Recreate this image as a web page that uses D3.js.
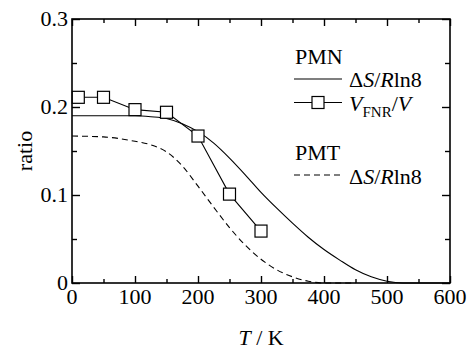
<!DOCTYPE html>
<html>
<head>
<meta charset="utf-8">
<script src="https://cdn.jsdelivr.net/npm/d3@7"></script>
<style>
  body { margin: 0; background: #fff; }
  svg { display: block; }
  svg text { font-family: "Liberation Serif", Tinos, "Times New Roman", Times, "DejaVu Serif", serif; }
</style>
</head>
<body>
<svg></svg>
<script>
// squares: V_FNR / V for PMN
let fnrT = [10, 50, 100, 150, 200, 250, 300];
let fnrRatio = [0.211, 0.211, 0.197, 0.194, 0.167, 0.101, 0.059];

// solid curve: PMN entropy ratio
let pmnT = [0, 50, 100, 125, 150, 175, 200, 225, 250, 275, 300, 325, 350, 375, 400, 425, 450, 475, 500, 525, 600];
let pmnRatio = [0.19, 0.19, 0.19, 0.189, 0.187, 0.181, 0.172, 0.159, 0.142, 0.123, 0.103, 0.085, 0.068, 0.052, 0.038, 0.026, 0.015, 0.007, 0.002, 0, 0];

// dashed curve: PMT entropy ratio
let pmtT = [0, 50, 100, 125, 150, 175, 200, 225, 250, 275, 300, 325, 350, 375, 400, 450];
let pmtRatio = [0.167, 0.166, 0.161, 0.157, 0.149, 0.133, 0.11, 0.086, 0.063, 0.043, 0.027, 0.015, 0.007, 0.002, 0, 0];

let xTicks = [0, 100, 200, 300, 400, 500, 600];
let xMinor = [50, 150, 250, 350, 450, 550];
let yTicks = [0, 0.1, 0.2, 0.3];
let yMinor = [0.05, 0.15, 0.25];

let width = 473;
let height = 350;
let plotLeft = 72, plotRight = 450, plotTop = 19, plotBottom = 283;
let serif = "'Liberation Serif', Tinos, 'Times New Roman', serif";

let svg = d3.select("svg").attr("width", width).attr("height", height)
  .attr("font-family", serif);

let xScale = d3.scaleLinear().domain([0, 600]).range([plotLeft, plotRight]);
let yScale = d3.scaleLinear().domain([0, 0.3]).range([plotBottom, plotTop]);

// tick marks (inward) on all four sides
let drawTicks = (axisFn, scale, vals, len, transform) => {
  let g = svg.append("g")
    .attr("transform", transform)
    .call(axisFn(scale).tickValues(vals).tickSize(len).tickFormat(""));
  g.select(".domain").remove();
  g.selectAll(".tick line").attr("stroke", "#000").attr("stroke-width", 1.4);
};
drawTicks(d3.axisTop, xScale, xTicks, 7, "translate(0," + plotBottom + ")");
drawTicks(d3.axisTop, xScale, xMinor, 4, "translate(0," + plotBottom + ")");
drawTicks(d3.axisBottom, xScale, xTicks, 7, "translate(0," + plotTop + ")");
drawTicks(d3.axisBottom, xScale, xMinor, 4, "translate(0," + plotTop + ")");
drawTicks(d3.axisRight, yScale, yTicks, 8, "translate(" + plotLeft + ",0)");
drawTicks(d3.axisRight, yScale, yMinor, 5, "translate(" + plotLeft + ",0)");
drawTicks(d3.axisLeft, yScale, yTicks, 8, "translate(" + plotRight + ",0)");
drawTicks(d3.axisLeft, yScale, yMinor, 5, "translate(" + plotRight + ",0)");

// frame
svg.append("rect")
  .attr("x", plotLeft).attr("y", plotTop)
  .attr("width", plotRight - plotLeft).attr("height", plotBottom - plotTop)
  .attr("fill", "none").attr("stroke", "#000").attr("stroke-width", 1.6);

// tick labels
svg.append("g").selectAll("text").data(xTicks).enter().append("text")
  .attr("x", (d) => xScale(d))
  .attr("y", 304)
  .attr("text-anchor", "middle")
  .attr("font-size", 22)
  .text((d) => d);

svg.append("g").selectAll("text").data(yTicks).enter().append("text")
  .attr("x", plotLeft - 4)
  .attr("y", (d) => yScale(d) + 7)
  .attr("text-anchor", "end")
  .attr("font-size", 22)
  .text((d) => (d === 0 ? "0" : d3.format(".1f")(d)));

// axis titles
svg.append("text")
  .attr("transform", "translate(32," + (plotTop + plotBottom) / 2 + ") rotate(-90)")
  .attr("text-anchor", "middle")
  .attr("font-size", 22)
  .text("ratio");

let xt = svg.append("text")
  .attr("x", (plotLeft + plotRight) / 2)
  .attr("y", 345)
  .attr("text-anchor", "middle")
  .attr("font-size", 22);
xt.append("tspan").attr("font-style", "italic").text("T");
xt.append("tspan").text(" / K");

// curves
let line = (xs, ys) =>
  d3.line().x((d, i) => xScale(xs[i])).y((d, i) => yScale(ys[i])).curve(d3.curveMonotoneX)(xs);

svg.append("path")
  .attr("d", line(pmtT, pmtRatio))
  .attr("fill", "none").attr("stroke", "#000").attr("stroke-width", 1.1)
  .attr("stroke-dasharray", "6,4");

svg.append("path")
  .attr("d", line(pmnT, pmnRatio))
  .attr("fill", "none").attr("stroke", "#000").attr("stroke-width", 1.1);

svg.append("path")
  .attr("d", d3.line().x((d, i) => xScale(fnrT[i])).y((d, i) => yScale(fnrRatio[i]))(fnrT))
  .attr("fill", "none").attr("stroke", "#000").attr("stroke-width", 1.1);

let sq = 12;
svg.append("g").selectAll("rect").data(fnrT).enter().append("rect")
  .attr("x", (d) => xScale(d) - sq / 2)
  .attr("y", (d, i) => yScale(fnrRatio[i]) - sq / 2)
  .attr("width", sq).attr("height", sq)
  .attr("fill", "#fff").attr("stroke", "#000").attr("stroke-width", 1.2);

// legend
let lg = svg.append("g").attr("font-size", 22);
lg.append("text").attr("x", 295).attr("y", 64).text("PMN");
lg.append("line").attr("x1", 294).attr("x2", 342).attr("y1", 79).attr("y2", 79)
  .attr("stroke", "#000").attr("stroke-width", 1.1);
let t1 = lg.append("text").attr("x", 349).attr("y", 87);
t1.append("tspan").text("Δ");
t1.append("tspan").attr("font-style", "italic").text("S");
t1.append("tspan").text("/");
t1.append("tspan").attr("font-style", "italic").text("R");
t1.append("tspan").text("ln8");

lg.append("line").attr("x1", 294).attr("x2", 342).attr("y1", 102.5).attr("y2", 102.5)
  .attr("stroke", "#000").attr("stroke-width", 1.1);
lg.append("rect").attr("x", 318 - sq / 2).attr("y", 102.5 - sq / 2).attr("width", sq).attr("height", sq)
  .attr("fill", "#fff").attr("stroke", "#000").attr("stroke-width", 1.2);
let t2 = lg.append("text").attr("x", 349).attr("y", 111);
t2.append("tspan").attr("font-style", "italic").text("V");
t2.append("tspan").attr("font-size", 15).attr("dy", 6).text("FNR");
t2.append("tspan").attr("dy", -6).text("/");
t2.append("tspan").attr("font-style", "italic").text("V");

lg.append("text").attr("x", 295).attr("y", 160).text("PMT");
lg.append("line").attr("x1", 294).attr("x2", 342).attr("y1", 175).attr("y2", 175)
  .attr("stroke", "#000").attr("stroke-width", 1.1).attr("stroke-dasharray", "6,4");
let t3 = lg.append("text").attr("x", 349).attr("y", 183.5);
t3.append("tspan").text("Δ");
t3.append("tspan").attr("font-style", "italic").text("S");
t3.append("tspan").text("/");
t3.append("tspan").attr("font-style", "italic").text("R");
t3.append("tspan").text("ln8");
</script>
</body>
</html>
